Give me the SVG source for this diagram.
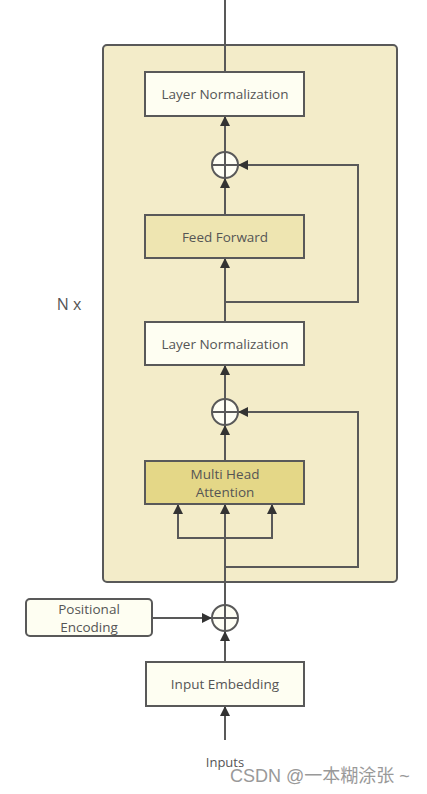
<svg xmlns="http://www.w3.org/2000/svg" width="427" height="794" viewBox="0 0 427 794">
<defs>
<style>
.box{stroke:#595959;stroke-width:2}
.ln{fill:none;stroke:#595959;stroke-width:2}
.t{font-family:"Open Sans","Noto Sans",sans-serif;font-size:13.5px;fill:#555;text-anchor:middle}
.plus{fill:#fefef4;stroke:#595959;stroke-width:2}
</style>
<marker id="a" viewBox="0 0 10 10" refX="10" refY="5" markerWidth="10" markerHeight="11" markerUnits="userSpaceOnUse" orient="auto">
<path d="M0,0 L10,5 L0,10 z" fill="#333"/>
</marker>
</defs>
<rect x="0" y="0" width="427" height="794" fill="#fff"/>
<g id="encoder-block"><rect x="103" y="45" width="294" height="537" rx="4" fill="#f3ecc9" class="box"/></g>
<text x="69" y="310" class="t" style="font-size:16px">N x</text>
<g id="connectors">
<path class="ln" d="M225,0 V72"/>
<path class="ln" d="M225,152 V116" marker-end="url(#a)"/>
<path class="ln" d="M225,302 H358 V165 H238" marker-end="url(#a)"/>
<path class="ln" d="M225,215 V178" marker-end="url(#a)"/>
<path class="ln" d="M225,322 V258" marker-end="url(#a)"/>
<path class="ln" d="M225,399 V365" marker-end="url(#a)"/>
<path class="ln" d="M225,567 H358 V412 H238" marker-end="url(#a)"/>
<path class="ln" d="M225,461 V425" marker-end="url(#a)"/>
<path class="ln" d="M225,605 V504" marker-end="url(#a)"/>
<path class="ln" d="M178,538 H272"/>
<path class="ln" d="M178,539 V504" marker-end="url(#a)"/>
<path class="ln" d="M272,539 V504" marker-end="url(#a)"/>
<path class="ln" d="M152,618 H212" marker-end="url(#a)"/>
<path class="ln" d="M225,662 V631" marker-end="url(#a)"/>
<path class="ln" d="M225,740 V706" marker-end="url(#a)"/>
</g>
<g id="layer-norm-2"><rect x="145" y="72" width="159" height="44" fill="#fefef2" class="box"/><text x="225" y="99" class="t">Layer Normalization</text></g>
<g id="add-2"><circle cx="225" cy="165" r="13" class="plus"/><path class="ln" d="M212,165 H238 M225,152 V178"/></g>
<g id="feed-forward"><rect x="145" y="215" width="159" height="43" fill="#eee5b1" class="box"/><text x="225" y="242" class="t">Feed Forward</text></g>
<g id="layer-norm-1"><rect x="145" y="322" width="159" height="43" fill="#fefef2" class="box"/><text x="225" y="349" class="t">Layer Normalization</text></g>
<g id="add-1"><circle cx="225" cy="412" r="13" class="plus"/><path class="ln" d="M212,412 H238 M225,399 V425"/></g>
<g id="multi-head-attention"><rect x="145" y="461" width="159" height="43" fill="#e4d787" class="box"/><text x="225" y="479" class="t">Multi Head</text><text x="225" y="497" class="t">Attention</text></g>
<g id="add-pos"><circle cx="225" cy="618" r="13" class="plus"/><path class="ln" d="M212,618 H238 M225,605 V631"/></g>
<g id="positional-encoding"><rect x="26" y="599" width="126" height="37" rx="4" fill="#fefef2" class="box"/><text x="89" y="614" class="t">Positional</text><text x="89" y="632" class="t">Encoding</text></g>
<g id="input-embedding"><rect x="146" y="662" width="158" height="44" fill="#fefef2" class="box"/><text x="225" y="689" class="t">Input Embedding</text></g>
<text x="225" y="767" class="t" style="font-size:13px">Inputs</text>
<text x="320" y="782" style="font-family:'Liberation Sans','Noto Sans CJK SC',sans-serif;font-size:18px;fill:#999;text-anchor:middle">CSDN @一本糊涂张 ~</text>
</svg>
